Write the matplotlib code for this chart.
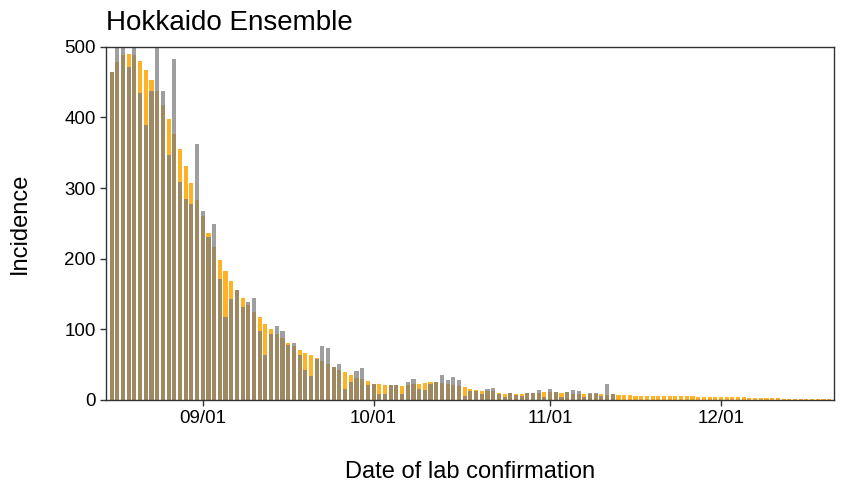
import matplotlib
matplotlib.use("Agg")
import matplotlib.pyplot as plt
import matplotlib.dates as mdates
import pandas as pd

plt.rcParams['font.family'] = ['Liberation Sans', 'DejaVu Sans']

# Data
dates = pd.date_range("2022-08-16", "2022-12-20", freq="D")

ensemble = [465, 479, 488, 490, 488, 480, 467, 453, 437, 418,
            398, 377, 355, 331, 307, 283, 260, 237, 216, 198,
            182, 168, 155, 144, 135, 125, 117, 108, 100, 94,
            87, 81, 76, 71, 67, 63, 59, 55, 51, 47,
            43, 40, 35, 31, 29, 27, 23, 22, 21, 21,
            21, 20, 21, 22, 23, 24, 25, 26, 24, 23,
            21, 20, 18, 16, 14, 13, 12, 12, 10, 9,
            10, 9, 9, 10, 10, 10, 11, 11, 11, 10,
            11, 9, 9, 9, 9, 9, 8, 7, 8, 7,
            6.6, 6.6, 6, 6, 6, 6, 5.7, 5.7, 5.7, 5,
            5, 5, 5, 4.5, 4.5, 4, 4, 4, 4, 3.5,
            3.5, 3.5, 3, 3, 3, 3, 2.5, 2.5, 1.5, 1.5,
            1.5, 1, 1, 1, 1, 1, 1]

observed = [465, 540, 520, 471, 515, 435, 390, 438, 560, 437,
            347, 483, 309, 285, 278, 363, 267, 231, 249, 171,
            117, 143, 155, 131, 139, 145, 97, 63, 93, 104,
            97, 78, 81, 63, 43, 34, 58, 76, 73, 46,
            51, 15, 25, 41, 45, 21, 23, 9, 9, 21,
            21, 9, 26, 29, 16, 14, 22, 26, 35, 28,
            33, 28, 5, 12, 12, 8, 15, 17, 8, 4.5,
            10, 7, 5, 10, 10, 14, 4.5, 15.6, 11, 4.5,
            11, 14, 12, 4, 10, 10, 6, 22, 9]

obs_dates = dates[:len(observed)]

fig = plt.figure(figsize=(8.41, 4.83), dpi=100)
ax = fig.add_axes([0.126, 0.172, 0.866, 0.731])

ax.bar(dates, ensemble, width=0.72, color='#FFA500', alpha=0.85, linewidth=0)
ax.bar(obs_dates, observed, width=0.72, color='#7a7a7a', alpha=0.72, linewidth=0)

ax.set_ylim(0, 500)
ax.set_xlim(mdates.date2num(pd.Timestamp("2022-08-15")),
            mdates.date2num(pd.Timestamp("2022-12-20")) + 0.9)
ax.set_yticks([0, 100, 200, 300, 400, 500])
ax.xaxis.set_major_locator(mdates.MonthLocator(bymonthday=1))
ax.xaxis.set_major_formatter(mdates.DateFormatter("%m/%d"))

for s in ax.spines.values():
    s.set_color('#333333')
    s.set_linewidth(1.0)
ax.tick_params(axis='both', direction='out', length=4, width=1, color='#333333',
               labelsize=13.5, labelcolor='black')

ax.set_xlabel('Date of lab confirmation', fontsize=17, labelpad=24)
ax.set_ylabel('Incidence', fontsize=17, labelpad=24)
ax.set_title('Hokkaido Ensemble', fontsize=20, loc='left', pad=12)

fig.savefig("out.png", dpi=100)
